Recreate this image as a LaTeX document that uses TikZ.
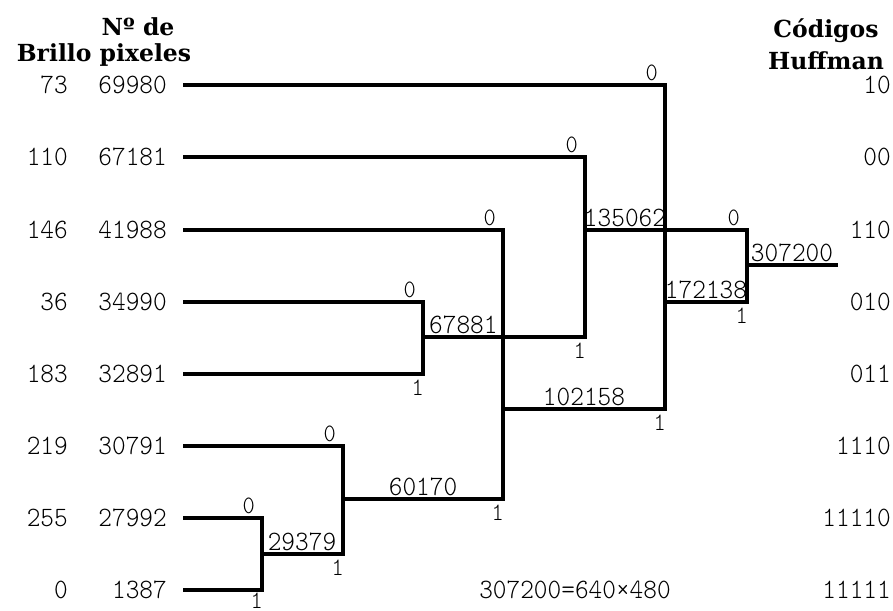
\documentclass[tikz,border=0pt]{standalone}
\usepackage{fontspec}
\usepackage{tikz}
\usetikzlibrary{positioning,calc}
\newfontfamily\numfont[FakeStretch=0.93]{lmmonolt10-regular.otf}
\newfontfamily\headfont{DejaVu Serif}
\tikzset{
  num/.style={font=\numfont\fontsize{28}{28}\selectfont, inner sep=0pt},
  bit/.style={font=\numfont\fontsize{25}{25}\selectfont, inner sep=0pt},
  head/.style={font=\headfont\bfseries\fontsize{23.5}{32}\selectfont, inner sep=0pt, align=center},
  branch/.style={line width=3.2pt, draw=black},
}
\begin{document}
\begin{tikzpicture}[x=1pt, y=-1pt]
    \useasboundingbox (0,0) rectangle (893,610);
    % column headings
    \node[head] (hno) at (138,27) {Nº de};
    \node[head] (hbr) at (104,55) {Brillo pixeles};
    \node[head] (hcod) at (826,44) {Códigos\\Huffman};
    % leaves: brightness, pixel count, code
    \foreach \i/\y/\br/\cnt/\code in {1/85/73/69980/10, 2/157/110/67181/00,
        3/230/146/41988/110, 4/302/36/34990/010, 5/374/183/32891/011,
        6/446/219/30791/1110, 7/518/255/27992/11110, 8/590/0/1387/11111}{
      \node[num, anchor=east] (b\i) at (68,\y) {\br};
      \node[num, anchor=east] (n\i) at (167,\y) {\cnt};
      \node[num, anchor=east] (c\i) at (891,\y) {\code};
      \coordinate (r\i) at (183,\y);
    }
    % merge points
    \coordinate (mA) at (262,554);
    \coordinate (mB) at (343,499);
    \coordinate (mC) at (423,337);
    \coordinate (mD) at (503,409);
    \coordinate (mE) at (585,230);
    \coordinate (mF) at (665,302);
    \coordinate (mG) at (747,265);
    \coordinate (root) at (838,265);
    % tree
    \draw[branch] (r7) -| (mA) |- (r8);
    \draw[branch] (r6) -| (mB) |- (mA);
    \draw[branch] (r4) -| (mC) |- (r5);
    \draw[branch] (r3) -| (mD) |- (mB);
    \draw[branch] (r2) -| (mE) |- (mC);
    \draw[branch] (r1) -| (mF) |- (mD);
    \draw[branch] (mE) -| (mG) |- (mF);
    \draw[branch] (mG) -- (root);
    % 0 / 1 on each fork
    \foreach \m/\x/\yt/\yb in {A/262/518/593, B/343/446/560, C/423/302/380,
        D/503/230/505, E/585/157/343, F/665/85/415, G/747/230/308}{
      \node[bit, anchor=south east] (z\m) at (\x-7,\yt-4) {0};
      \node[bit, anchor=north east] (o\m) at (\x+1,\yb) {1};
    }
    % sums
    \node[num, anchor=south] (sA) at (302,551) {29379};
    \node[num, anchor=south] (sB) at (423,496) {60170};
    \node[num, anchor=south west] (sC) at (429,334) {67881};
    \node[num, anchor=south] (sD) at (584,406) {102158};
    \node[num, anchor=south] (sE) at (625,227) {135062};
    \node[num, anchor=south] (sF) at (706,299) {172138};
    \node[num, anchor=south] (sG) at (792,262) {307200};
    \node[num] (total) at (575,590) {307200=640×480};
  \end{tikzpicture}
\end{document}
